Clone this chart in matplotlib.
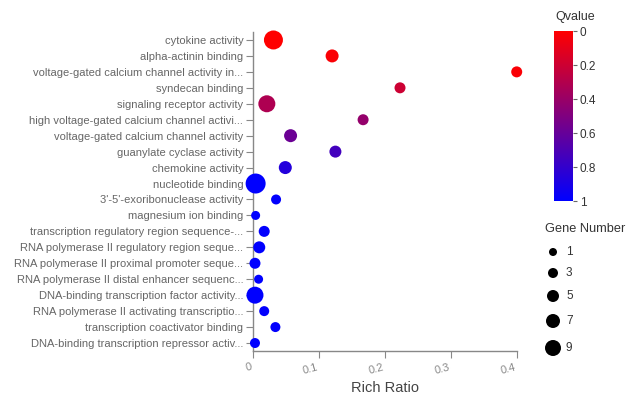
import numpy as np
import matplotlib
matplotlib.use('Agg')
import matplotlib.pyplot as plt
from matplotlib.colors import LinearSegmentedColormap

plt.rcParams['font.family'] = ['Liberation Sans', 'DejaVu Sans']

terms = [
    'cytokine activity',
    'alpha-actinin binding',
    'voltage-gated calcium channel activity in...',
    'syndecan binding',
    'signaling receptor activity',
    'high voltage-gated calcium channel activi...',
    'voltage-gated calcium channel activity',
    'guanylate cyclase activity',
    'chemokine activity',
    'nucleotide binding',
    "3'-5'-exoribonuclease activity",
    'magnesium ion binding',
    'transcription regulatory region sequence-...',
    'RNA polymerase II regulatory region seque...',
    'RNA polymerase II proximal promoter seque...',
    'RNA polymerase II distal enhancer sequenc...',
    'DNA-binding transcription factor activity...',
    'RNA polymerase II activating transcriptio...',
    'transcription coactivator binding',
    'DNA-binding transcription repressor activ...',
]
rich_ratio = [0.031, 0.120, 0.400, 0.223, 0.021, 0.167, 0.057, 0.125, 0.049, 0.004,
              0.035, 0.004, 0.017, 0.0095, 0.003, 0.0085, 0.003, 0.017, 0.034, 0.003]
qvalue = [0.0, 0.02, 0.02, 0.2, 0.32, 0.42, 0.58, 0.74, 0.86, 1.0,
          0.99, 1.0, 0.99, 1.0, 1.0, 1.0, 1.0, 0.99, 0.99, 1.0]
gene_number = [12, 6, 4, 4, 10, 4, 6, 5, 6, 13,
               3, 2, 4, 5, 4, 2, 10, 3, 3, 3]
legend_genes = [1, 3, 5, 7, 9]
x_ticks = [0, 0.1, 0.2, 0.3, 0.4]
q_ticks = [0, 0.2, 0.4, 0.6, 0.8, 1]


def bubble_diam(n):
    # diametro aproximado en pixeles
    return 7 + np.asarray(n, dtype=float)


def bubble_area(n):
    # pixeles -> area en pt^2 (dpi 100)
    return (bubble_diam(n) * 0.72) ** 2


cmap = LinearSegmentedColormap.from_list('rb', ['#ff0000', '#0000ff'])

W, H = 627, 399
fig = plt.figure(figsize=(W / 100, H / 100), dpi=100)
ax = fig.add_axes([0.4035, 0.1203, 0.4206, 0.7995])

y = np.arange(len(terms))
sc = ax.scatter(rich_ratio, y, s=bubble_area(gene_number), c=qvalue, cmap=cmap,
                vmin=0, vmax=1, edgecolors='none', clip_on=False, zorder=3)

ax.set_xlim(0, 0.4)
ax.set_ylim(len(terms) - 0.5, -0.5)
ax.set_yticks(y)
ax.set_yticklabels(terms)
ax.set_xticks(x_ticks)
ax.set_xticklabels(['0', '0.1', '0.2', '0.3', '0.4'], rotation=15, ha='right')

for s in ['top', 'right']:
    ax.spines[s].set_visible(False)
for s in ['left', 'bottom']:
    ax.spines[s].set_color('#888888')
    ax.spines[s].set_linewidth(1.0)
ax.tick_params(axis='y', length=5, color='#888888', labelcolor='#666666', labelsize=8.0, pad=2)
ax.tick_params(axis='x', length=5, color='#888888', labelcolor='#888888', labelsize=8, pad=3)
ax.set_xlabel('Rich Ratio', fontsize=10.5, color='#444444', labelpad=4)

# barra de color
cax = fig.add_axes([554 / W, 1 - 201 / H, 19 / W, 170 / H])
cb = fig.colorbar(sc, cax=cax, ticks=q_ticks)
cb.ax.invert_yaxis()
cb.outline.set_visible(False)
cb.ax.set_yticklabels(['0', '0.2', '0.4', '0.6', '0.8', '1'])
cb.ax.tick_params(length=3, color='#666666', labelcolor='#333333', labelsize=8.5, pad=2)
fig.text(555 / W, 1 - 17 / H, 'Qvalue', ha='left', va='center', fontsize=9, color='#333333')

# leyenda de tamaños (ejes propios en pixeles)
lax = fig.add_axes([530 / W, 1 - 365 / H, 97 / W, 150 / H])
lax.set_xlim(530, 627)
lax.set_ylim(365, 215)
lax.axis('off')
d = bubble_diam(legend_genes)
row_y = 252 + np.concatenate([[0], np.cumsum((d[:-1] + d[1:]) / 2 + 12)])
lax.scatter(np.full(len(legend_genes), 553), row_y, s=bubble_area(legend_genes),
            color='black', edgecolors='none', clip_on=False)
for n, yy in zip(legend_genes, row_y):
    lax.text(566, yy, str(n), ha='left', va='center', fontsize=8.5, color='#333333')
lax.text(545, 229, 'Gene Number', ha='left', va='center', fontsize=9.2, color='#333333')

fig.savefig('out.png', dpi=100, facecolor='white')
